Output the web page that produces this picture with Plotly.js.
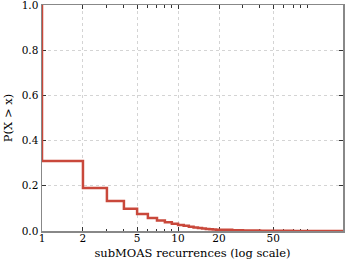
<!DOCTYPE html>
<html>
<head>
<meta charset="utf-8">
<script src="https://cdn.plot.ly/plotly-3.0.1.min.js"></script>
<style>html,body{margin:0;padding:0;background:#fff;}#chart{width:345px;height:260px;}</style>
</head>
<body>
<div id="chart"></div>
<script>
// recurrence count (x) and CCDF P(X > x)
const recurrences = [1, 1, 2, 3, 4, 5, 6, 7, 8, 9, 10, 11, 12, 13, 14, 15, 16, 17, 18, 19, 20, 25, 30, 40, 50, 70, 100, 163];
const ccdf = [1.0, 0.31, 0.19, 0.133, 0.098, 0.075, 0.058, 0.047, 0.039, 0.032, 0.027, 0.023, 0.019, 0.016, 0.013, 0.011, 0.009, 0.008, 0.007, 0.006, 0.005, 0.003, 0.002, 0.0015, 0.001, 0.0005, 0.0002, 0.0];
const xTicks = [1, 2, 5, 10, 20, 50];
const xMinor = [3, 4, 6, 7, 8, 9, 30, 40, 60, 70, 80, 90];
const yTicks = [0, 0.2, 0.4, 0.6, 0.8, 1.0];

const font = {family: 'DejaVu Serif, serif', size: 11, color: '#000'};

Plotly.newPlot('chart', [{
  x: recurrences, y: ccdf, type: 'scatter', mode: 'lines',
  line: {shape: 'hv', color: '#c9483b', width: 2.5}
}], {
  width: 345, height: 260,
  margin: {l: 42, r: 2, t: 5, b: 29},
  paper_bgcolor: '#fff', plot_bgcolor: '#fff',
  showlegend: false,
  font: font,
  xaxis: {
    type: 'log', range: [0, Math.log10(163)],
    tickmode: 'array', tickvals: xTicks, ticktext: xTicks.map(String),
    ticks: 'inside', ticklen: 4, tickcolor: '#333', tickwidth: 1,
    showline: true, mirror: 'allticks', linecolor: '#888', linewidth: 1.5,
    showgrid: true, gridcolor: '#d4d4d4', griddash: 'dot', gridwidth: 1,
    zeroline: false, layer: 'below traces',
    ticklabeloverflow: 'allow', ticklabelstandoff: -3,
    minor: {tickmode: 'array', tickvals: xMinor, ticks: 'inside', ticklen: 2.5, tickcolor: '#333', showgrid: false},
    tickfont: {family: 'DejaVu Serif, serif', size: 10.5},
    title: {text: 'subMOAS recurrences (log scale)', font: {family: 'DejaVu Serif, serif', size: 11.5}, standoff: 6}
  },
  yaxis: {
    range: [0, 1],
    tickmode: 'array', tickvals: yTicks, ticktext: yTicks.map(v => v.toFixed(1)),
    ticks: 'inside', ticklen: 4, tickcolor: '#333', tickwidth: 1,
    showline: true, mirror: 'allticks', linecolor: '#888', linewidth: 1.5,
    showgrid: true, gridcolor: '#d4d4d4', griddash: 'dot', gridwidth: 1,
    zeroline: false, layer: 'below traces',
    ticklabeloverflow: 'allow',
    tickfont: {family: 'DejaVu Serif, serif', size: 10.5},
    title: {text: 'P(X > x)', font: {family: 'DejaVu Serif, serif', size: 11.5}, standoff: 6}
  }
}, {displayModeBar: false, staticPlot: true});
</script>
</body>
</html>
